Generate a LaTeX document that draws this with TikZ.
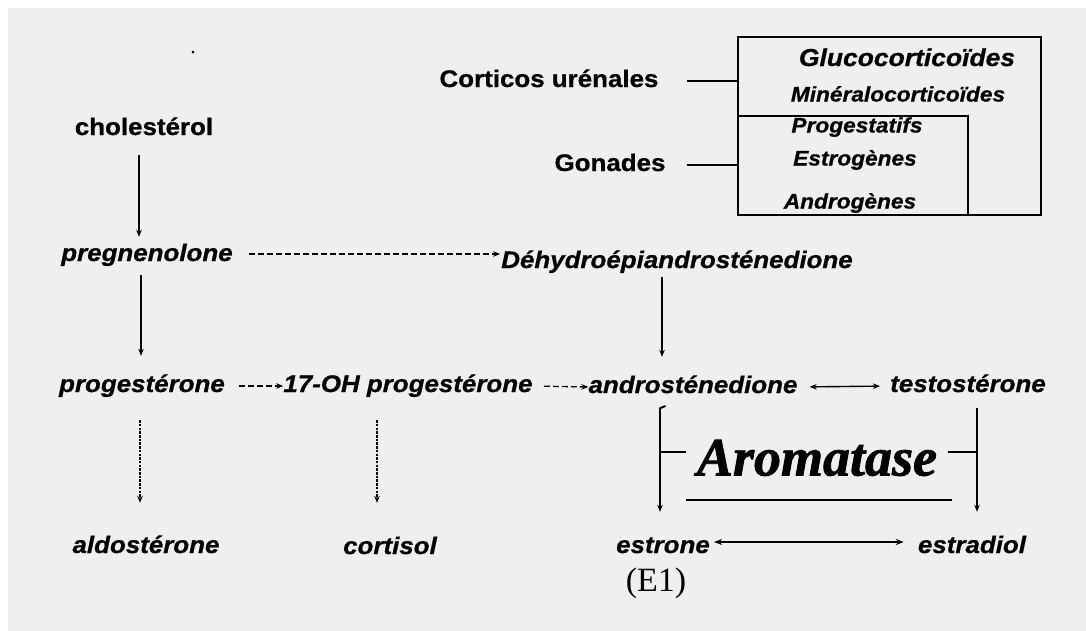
\documentclass[tikz,border=0pt]{standalone}
\usepackage{fontspec}
\setmainfont{Liberation Sans}
\newfontfamily\labfont[FakeStretch=1.08, BoldFeatures={FakeBold=0.8}, BoldItalicFeatures={FakeBold=0.8}]{Liberation Sans}
\newfontfamily\serfont{Liberation Serif}
\newfontfamily\arofont[BoldItalicFeatures={FakeBold=1.5}]{Liberation Serif}
\usetikzlibrary{arrows.meta}
\definecolor{bgray}{HTML}{EFEFEF}
\begin{document}
\begin{tikzpicture}[x=1pt,y=-1pt,
  lbl/.style={inner sep=0pt, text height=17pt, text depth=5pt,
    font=\labfont\bfseries\itshape\fontsize{24}{28}\selectfont},
  hdr/.style={inner sep=0pt, text height=17pt, text depth=5pt,
    font=\labfont\bfseries\fontsize{24}{28}\selectfont},
  boxlbl/.style={inner sep=0pt, text height=15pt, text depth=4pt,
    font=\labfont\bfseries\itshape\fontsize{21}{24}\selectfont},
  boxline/.style={draw, line width=1.5pt, inner sep=0pt},
  tip/.style={-{Stealth[length=7pt,width=5.5pt]}},
  arr/.style={tip, line width=1.7pt},
  dsh/.style={tip, line width=1.3pt, dash pattern=on 6pt off 3pt},
  dts/.style={tip, line width=1.6pt, dash pattern=on 2.5pt off 1.2pt},
  dbl/.style={{Stealth[length=7pt,width=5.5pt]}-{Stealth[length=7pt,width=5.5pt]}, line width=1.4pt},
  dblthick/.style={{Stealth[length=8pt,width=6pt]}-{Stealth[length=8pt,width=6pt]}, line width=2.2pt},
  plain/.style={line width=2pt}
]
\useasboundingbox (0,0) rectangle (1086,630);
\fill[white] (0,0) rectangle (1086,630);
\fill[bgray] (8,8) rectangle (1100,645);

% stray dot
\node[circle, fill=black, inner sep=0pt, minimum size=3pt] (dot) at (193,52) {};

% top-right legend
\node[hdr] (cort) at (549,81) {Corticos urénales};
\node[hdr] (gon) at (610,165) {Gonades};
\node[boxline, minimum width=303pt, minimum height=178pt] (outer) at (889.5,126) {};
\node[boxline, minimum width=230pt, minimum height=99pt] (inner) at (853,165.5) {};
\node[lbl, font=\labfont\bfseries\itshape\fontsize{24.5}{28}\selectfont] (gluco) at (907,60) {Glucocorticoïdes};
\node[boxlbl] (miner) at (898,96) {Minéralocorticoïdes};
\node[boxlbl] (progs) at (857,127) {Progestatifs};
\node[boxlbl] (estrg) at (855,160) {Estrogènes};
\node[boxlbl] (andrg) at (850,203) {Androgènes};
\draw[plain, shorten <=28pt] (cort.east) -- (cort.east -| outer.west);
\draw[plain, shorten <=21pt] (gon.east) -- (gon.east -| outer.west);

% pathway nodes
\node[hdr] (chol) at (144,129) {cholestérol};
\node[lbl] (preg) at (147,255) {pregnenolone};
\node[lbl] (dhea) at (677,262) {Déhydroépiandrosténedione};
\node[lbl] (prog) at (142,386) {progestérone};
\node[lbl] (ohp) at (408,386) {17-OH progestérone};
\node[lbl] (andro) at (693,387) {androsténedione};
\node[lbl] (testo) at (968,386) {testostérone};
\node[lbl] (aldo) at (146,547) {aldostérone};
\node[lbl] (cortisol) at (390,548) {cortisol};
\node[lbl] (estrone) at (663,547) {estrone};
\node[lbl] (estradiol) at (972,547) {estradiol};
\node[inner sep=0pt, font=\serfont\fontsize{34}{38}\selectfont] (e1) at (656,583) {(E1)};
\node[inner xsep=11pt, inner ysep=0pt, text height=47pt, text depth=0pt,
  font=\arofont\bfseries\itshape\fontsize{54}{58}\selectfont] (aroma) at (817,452) {Aromatase};

% column coordinates
\coordinate (xa) at (139,0);
\coordinate (xb) at (141,0);
\coordinate (xc) at (662,0);
\coordinate (xd) at (140,0);
\coordinate (xe) at (377,0);
\coordinate (xf) at (660,0);
\coordinate (xg) at (977,0);

% vertical arrows
\draw[arr, shorten <=15pt, shorten >=7pt] (chol.south -| xa) -- (preg.north -| xa);
\draw[arr, shorten <=9pt, shorten >=19pt] (preg.south -| xb) -- (prog.north -| xb);
\draw[arr, shorten <=4pt, shorten >=19pt] (dhea.south -| xc) -- (andro.north -| xc);
\draw[dts, shorten <=23pt, shorten >=33pt] (prog.south -| xd) -- (aldo.north -| xd);
\draw[dts, shorten <=23pt, shorten >=34pt] (ohp.south -| xe) -- (cortisol.north -| xe);
\draw[arr, shorten <=10pt, shorten >=24pt] (andro.south -| xf) -- (estrone.north -| xf);
\draw[arr, shorten <=11pt, shorten >=24pt] (testo.south -| xg) -- (estradiol.north -| xg);

% horizontal arrows
\draw[dsh, shorten <=16pt, shorten >=1pt] ([yshift=1pt]preg.east) -- ([yshift=1pt]preg.east -| dhea.west);
\draw[dsh, shorten <=14pt, shorten >=0pt] (prog.east) -- (ohp.west);
\draw[dsh, shorten <=11pt, shorten >=0pt] (ohp.east) -- (andro.west);
\draw[dbl, shorten <=12pt, shorten >=10pt] (andro.east) -- (testo.west);
\draw[dblthick, shorten <=4pt, shorten >=14pt] ([yshift=5pt]estrone.east) -- ([yshift=5pt]estradiol.west);

% aromatase bracket
\draw[plain] (aroma.west -| xf) -- (aroma.west);
\draw[plain] (aroma.east) -- (aroma.east -| xg);
\draw[plain, line cap=round] ([yshift=-10pt]andro.south -| xf) -- ++(5,-2);
\coordinate (ul1) at (686,500);
\coordinate (ul2) at (952,500);
\draw[plain] (ul1) -- (ul2);
\end{tikzpicture}
\end{document}
